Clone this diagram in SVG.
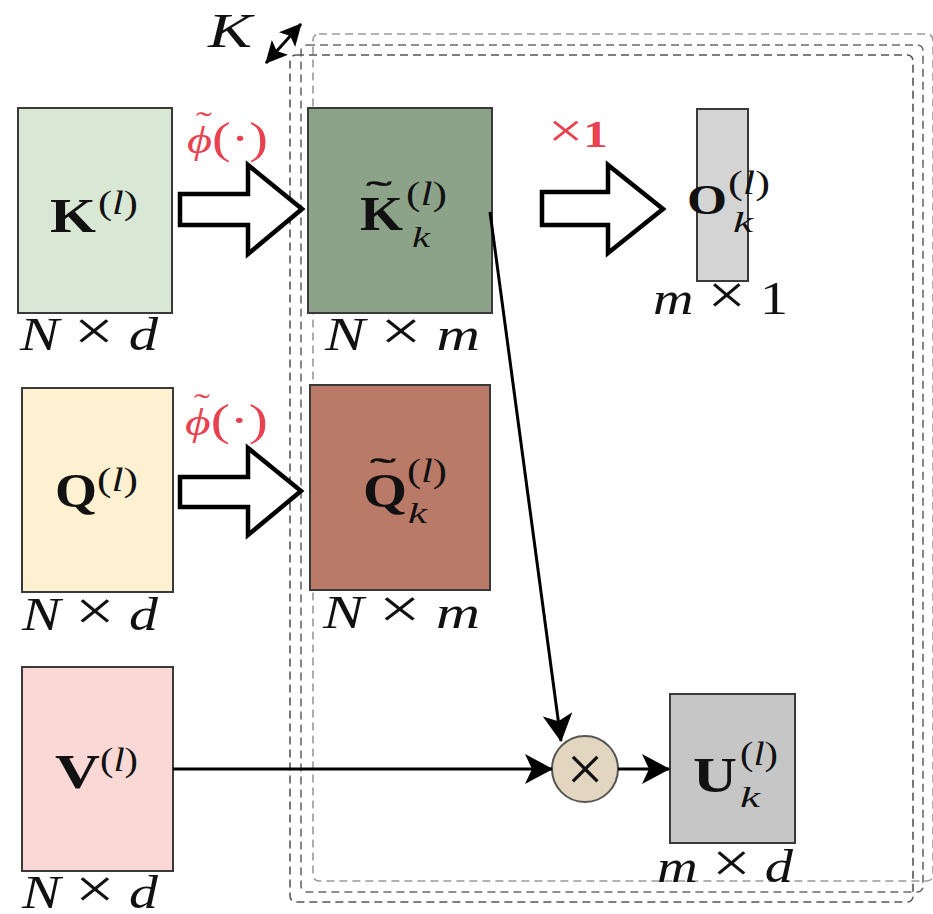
<svg xmlns="http://www.w3.org/2000/svg" width="933" height="914" viewBox="0 0 933 914">
<style>
.box{stroke:#3a3a3a;stroke-width:2}
.t{font-family:"Liberation Serif","DejaVu Serif",serif;fill:#111}
.b{font-weight:bold}
.i{font-style:italic}
.red{fill:#e8414f}
.sup{font-size:34px}
.sub{font-size:30px;font-style:italic}
.dim{font-size:46px}
.x{font-size:56px;font-style:normal}
.big{font-size:48px}
.frame{fill:none;stroke-width:1.6;stroke-dasharray:8 5}
.blk{fill:#fff;stroke:#000;stroke-width:4.5;stroke-linejoin:miter}
.con{fill:none;stroke:#000;stroke-width:3}
</style>
<defs>
<marker id="ah" markerUnits="userSpaceOnUse" viewBox="0 0 28 30" markerWidth="28" markerHeight="30" refX="27" refY="15" orient="auto">
<path d="M0,0 L28,15 L0,30 L7,15 z" fill="#000"/>
</marker>
<marker id="ahs" markerUnits="userSpaceOnUse" viewBox="0 0 22 22" markerWidth="22" markerHeight="22" refX="21" refY="11" orient="auto-start-reverse">
<path d="M0,0 L22,11 L0,22 L5,11 z" fill="#000"/>
</marker>
</defs>
<rect width="933" height="914" fill="#fff"/>

<g id="stack-frame">
<rect class="frame" x="313" y="34" width="620" height="847" rx="6" stroke="#9a9a9a"/>
<rect class="frame" x="301" y="45" width="622" height="847" rx="6" stroke="#6a6a6a"/>
<rect class="frame" x="290" y="55" width="623" height="847" rx="6" stroke="#555"/>
</g>

<g id="label-K">
<text class="t i big" x="208" y="47" textLength="44" lengthAdjust="spacingAndGlyphs">K</text>
<line class="con" x1="266" y1="63" x2="301" y2="24" stroke-width="5" marker-start="url(#ahs)" marker-end="url(#ahs)"/>
</g>

<g id="node-K">
<rect class="box" x="18" y="108" width="154" height="205" fill="#d8e8d5"/>
<text class="t b big" x="50" y="232" textLength="46" lengthAdjust="spacingAndGlyphs">K</text>
<text class="t sup" x="98" y="214" textLength="40" lengthAdjust="spacingAndGlyphs">(<tspan class="i">l</tspan>)</text>
<text class="t dim" x="20" y="350" textLength="138" lengthAdjust="spacingAndGlyphs"><tspan class="i">N</tspan> <tspan class="x">×</tspan> <tspan class="i">d</tspan></text>
</g>

<g id="node-Kt">
<rect class="box" x="308" y="108" width="184" height="205" fill="#8da389"/>
<text class="t b" x="366" y="203" font-size="32" textLength="26" lengthAdjust="spacingAndGlyphs">˜</text>
<text class="t b big" x="360" y="230" textLength="43" lengthAdjust="spacingAndGlyphs">K</text>
<text class="t sup" x="406" y="205" textLength="41" lengthAdjust="spacingAndGlyphs">(<tspan class="i">l</tspan>)</text>
<text class="t sub" x="412" y="247" textLength="18" lengthAdjust="spacingAndGlyphs">k</text>
<text class="t dim" x="325" y="350" textLength="155" lengthAdjust="spacingAndGlyphs"><tspan class="i">N</tspan> <tspan class="x">×</tspan> <tspan class="i">m</tspan></text>
</g>

<g id="node-O">
<rect class="box" x="697" y="109" width="51" height="172" fill="#d4d4d4"/>
<text class="t b" x="687" y="214" font-size="42" textLength="40" lengthAdjust="spacingAndGlyphs">O</text>
<text class="t sup" x="728" y="194" textLength="42" lengthAdjust="spacingAndGlyphs">(<tspan class="i">l</tspan>)</text>
<text class="t sub" x="733" y="232" textLength="20" lengthAdjust="spacingAndGlyphs">k</text>
<text class="t dim" x="653" y="314" textLength="135" lengthAdjust="spacingAndGlyphs"><tspan class="i">m</tspan> <tspan class="x">×</tspan> 1</text>
</g>

<g id="node-Q">
<rect class="box" x="22" y="388" width="151" height="204" fill="#fdf1d1"/>
<text class="t b big" x="55" y="507" textLength="42" lengthAdjust="spacingAndGlyphs">Q</text>
<text class="t sup" x="97" y="491" textLength="41" lengthAdjust="spacingAndGlyphs">(<tspan class="i">l</tspan>)</text>
<text class="t dim" x="22" y="630" textLength="136" lengthAdjust="spacingAndGlyphs"><tspan class="i">N</tspan> <tspan class="x">×</tspan> <tspan class="i">d</tspan></text>
</g>

<g id="node-Qt">
<rect class="box" x="310" y="385" width="180" height="205" fill="#b97a67"/>
<text class="t b" x="370" y="480" font-size="32" textLength="26" lengthAdjust="spacingAndGlyphs">˜</text>
<text class="t b big" x="363" y="507" textLength="44" lengthAdjust="spacingAndGlyphs">Q</text>
<text class="t sup" x="407" y="482" textLength="40" lengthAdjust="spacingAndGlyphs">(<tspan class="i">l</tspan>)</text>
<text class="t sub" x="408" y="523" textLength="19" lengthAdjust="spacingAndGlyphs">k</text>
<text class="t dim" x="323" y="628" textLength="157" lengthAdjust="spacingAndGlyphs"><tspan class="i">N</tspan> <tspan class="x">×</tspan> <tspan class="i">m</tspan></text>
</g>

<g id="node-V">
<rect class="box" x="22" y="667" width="151" height="204" fill="#fad8d5"/>
<text class="t b big" x="55" y="788" textLength="45" lengthAdjust="spacingAndGlyphs">V</text>
<text class="t sup" x="100" y="771" textLength="38" lengthAdjust="spacingAndGlyphs">(<tspan class="i">l</tspan>)</text>
<text class="t dim" x="22" y="908" textLength="136" lengthAdjust="spacingAndGlyphs"><tspan class="i">N</tspan> <tspan class="x">×</tspan> <tspan class="i">d</tspan></text>
</g>

<g id="node-mul">
<circle cx="585" cy="769" r="33" fill="#e2d6c1" stroke="#555" stroke-width="2"/>
<text class="t" x="585" y="791" font-size="66" text-anchor="middle" fill="#333">×</text>
</g>

<g id="node-U">
<rect class="box" x="670" y="694" width="125" height="149" fill="#c6c6c6"/>
<text class="t b" x="693" y="792" font-size="50" textLength="44" lengthAdjust="spacingAndGlyphs">U</text>
<text class="t sup" x="740" y="765" textLength="38" lengthAdjust="spacingAndGlyphs">(<tspan class="i">l</tspan>)</text>
<text class="t sub" x="740" y="807" textLength="20" lengthAdjust="spacingAndGlyphs">k</text>
<text class="t dim" x="657" y="882" textLength="136" lengthAdjust="spacingAndGlyphs"><tspan class="i">m</tspan> <tspan class="x">×</tspan> <tspan class="i">d</tspan></text>
</g>

<g id="connectors">
<polygon class="blk" points="180,194 248,194 248,165 302,209 248,254 248,225 180,225"/>
<polygon class="blk" points="180,477 248,477 248,448 301,491 248,535 248,507 180,507"/>
<polygon class="blk" points="542,192 608,192 608,165 663,209 608,253 608,225 542,225"/>
<text class="t red" x="196" y="132" font-size="30" textLength="16" lengthAdjust="spacingAndGlyphs">˜</text>
<text class="t red" x="187" y="153" font-size="44" textLength="81" lengthAdjust="spacingAndGlyphs"><tspan class="i" font-size="38">ϕ</tspan>(·)</text>
<text class="t red" x="194" y="414" font-size="30" textLength="16" lengthAdjust="spacingAndGlyphs">˜</text>
<text class="t red" x="185" y="435" font-size="44" textLength="83" lengthAdjust="spacingAndGlyphs"><tspan class="i" font-size="38">ϕ</tspan>(·)</text>
<text class="t red" x="548" y="147" font-size="38" textLength="60" lengthAdjust="spacingAndGlyphs"><tspan font-size="48">×</tspan><tspan class="b">1</tspan></text>
<line class="con" x1="490" y1="212" x2="561" y2="741" marker-end="url(#ah)"/>
<line class="con" x1="173" y1="769" x2="552" y2="769" marker-end="url(#ah)"/>
<line class="con" x1="618" y1="769" x2="669" y2="769" marker-end="url(#ah)"/>
</g>
</svg>
